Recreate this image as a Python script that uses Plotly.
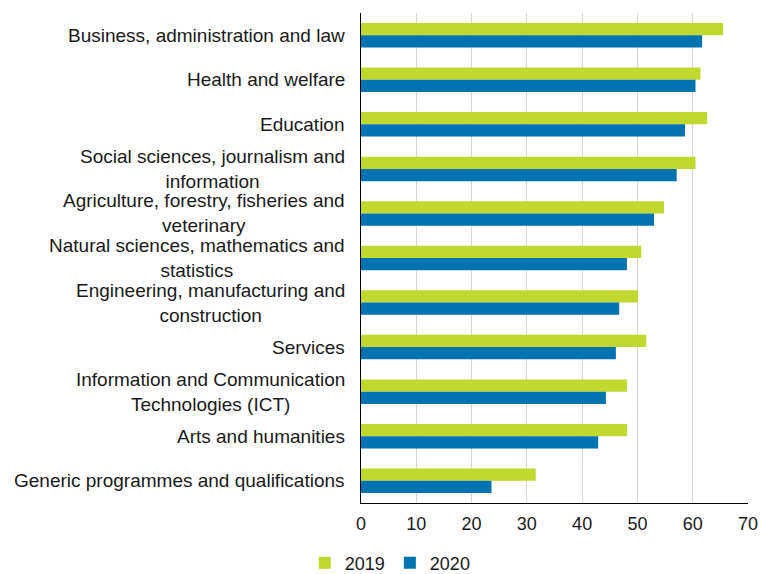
import plotly.graph_objects as go

categories = [
    "Business, administration and law",
    "Health and welfare",
    "Education",
    "Social sciences, journalism and information",
    "Agriculture, forestry, fisheries and veterinary",
    "Natural sciences, mathematics and statistics",
    "Engineering, manufacturing and construction",
    "Services",
    "Information and Communication Technologies (ICT)",
    "Arts and humanities",
    "Generic programmes and qualifications",
]
labels = [
    "Business, administration and law",
    "Health and welfare",
    "Education",
    "Social sciences, journalism and<br>information",
    "Agriculture, forestry, fisheries and<br>veterinary",
    "Natural sciences, mathematics and<br>statistics",
    "Engineering, manufacturing and<br>construction",
    "Services",
    "Information and Communication<br>Technologies (ICT)",
    "Arts and humanities",
    "Generic programmes and qualifications",
]
values_2019 = [65.5, 61.4, 62.6, 60.5, 54.8, 50.7, 50.1, 51.6, 48.1, 48.1, 31.6]
values_2020 = [61.7, 60.5, 58.6, 57.1, 53.0, 48.1, 46.7, 46.1, 44.3, 42.9, 23.6]
x_ticks = [0, 10, 20, 30, 40, 50, 60, 70]

FONT = "Liberation Sans, Arial, sans-serif"
TXT = "#1a1a1a"

fig = go.Figure()
fig.add_trace(go.Bar(y=categories, x=values_2019, name="2019", orientation="h",
                     marker=dict(color="#c1d82f", line=dict(width=0))))
fig.add_trace(go.Bar(y=categories, x=values_2020, name="2020", orientation="h",
                     marker=dict(color="#0073b0", line=dict(width=0))))

for cat, lab in zip(categories, labels):
    fig.add_annotation(x=0, xref="paper", y=cat, yref="y", text=lab,
                       xanchor="right", yanchor="middle", align="center",
                       xshift=-14, showarrow=False,
                       font=dict(family=FONT, size=19, color=TXT))

fig.update_layout(
    width=762, height=574,
    margin=dict(l=361, r=14, t=13, b=71),
    paper_bgcolor="white", plot_bgcolor="white",
    barmode="group", bargap=0.45, bargroupgap=0,
    font=dict(family=FONT, size=18, color=TXT),
    showlegend=True,
    legend=dict(orientation="h", xref="container", yref="container",
                x=0.400, y=0.019, xanchor="left", yanchor="middle",
                font=dict(family=FONT, size=18, color=TXT),
                itemwidth=30, traceorder="normal"),
    xaxis=dict(range=[0, 70], tickvals=x_ticks, showgrid=True,
               gridcolor="#d6d6d6", gridwidth=1, showline=True,
               linecolor="#000000", linewidth=1, zeroline=False,
               ticks="outside", ticklen=4, tickcolor="rgba(0,0,0,0)",
               tickfont=dict(size=18, color=TXT), automargin=False,
               fixedrange=True),
    yaxis=dict(autorange="reversed", showticklabels=False, showline=True,
               linecolor="#000000", linewidth=1, showgrid=False, ticks="",
               automargin=False, fixedrange=True),
)

fig.write_html(
    "out.html",
    config={"displayModeBar": False},
    post_script="document.body.style.margin='0';document.body.style.overflow='hidden';",
)
